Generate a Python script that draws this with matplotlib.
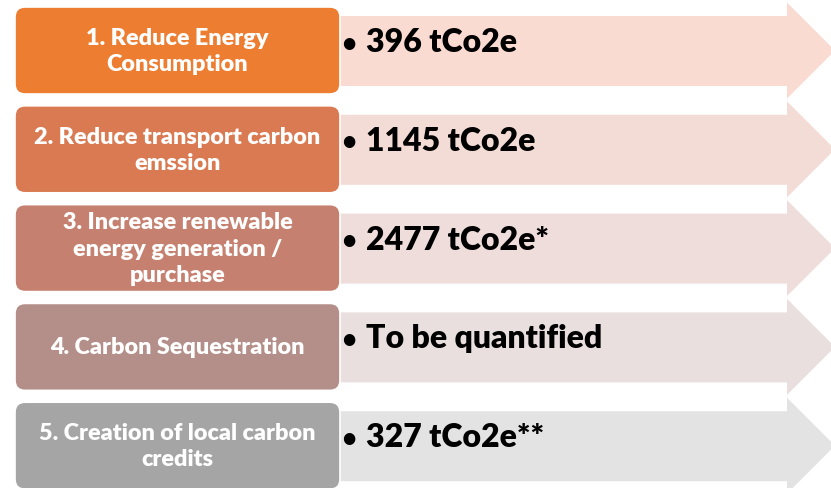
import numpy as np
import matplotlib.pyplot as plt
from matplotlib.patches import FancyBboxPatch, Polygon

plt.rcParams['font.family'] = ['Lato', 'DejaVu Sans']

# content
steps = ["1. Reduce Energy\nConsumption",
         "2. Reduce transport carbon\nemssion",
         "3. Increase renewable\nenergy generation /\npurchase",
         "4. Carbon Sequestration",
         "5. Creation of local carbon\ncredits"]
results = ["396 tCo2e", "1145 tCo2e", "2477 tCo2e*", "To be quantified", "327 tCo2e**"]

box_colors = ["#ED7D31", "#D97A52", "#C5806F", "#B48F89", "#A5A5A5"]
arrow_colors = ["#F9DBD2", "#F3DCD5", "#EEDDDB", "#E9DFDF", "#E3E3E3"]

W, H = 831, 489
fig = plt.figure(figsize=(W / 100, H / 100), dpi=100)
ax = fig.add_axes([0, 0, 1, 1])
ax.set_xlim(0, W)
ax.set_ylim(H, 0)
ax.axis('off')

top0, pitch, bh = 8, 98.8, 87
bx0, bx1 = 15, 340
body_end, tip_x = 787, 835
for i, (lab, res) in enumerate(zip(steps, results)):
    top = top0 + i * pitch
    cy = top + bh / 2
    # arrow behind the box
    b_top, b_bot = top + 9, top + bh - 8
    h_half = 48
    pts = [(bx1 - 10, b_top), (body_end, b_top), (body_end, cy - h_half),
           (tip_x, cy), (body_end, cy + h_half), (body_end, b_bot), (bx1 - 10, b_bot)]
    ax.add_patch(Polygon(pts, closed=True, fc=arrow_colors[i], ec='none', zorder=1))
    # rounded label box
    r = 10
    ax.add_patch(FancyBboxPatch((bx0 + r, top + r), bx1 - bx0 - 2 * r, bh - 2 * r,
                                boxstyle="round,pad=%d" % r, fc=box_colors[i],
                                ec='white', lw=1.2, zorder=2))
    ax.text((bx0 + bx1) / 2, cy, lab, color='white', fontsize=16.8, fontweight='heavy',
            ha='center', va='center', linespacing=1.32, zorder=3)
    ax.text(341, cy - 8, "\u2022", color='black', fontsize=19, fontweight='bold',
            ha='left', va='center', zorder=3)
    ax.text(366, cy - 9, res, color='black', fontsize=23, fontweight='heavy',
            ha='left', va='center', zorder=3)

fig.savefig("out.png", dpi=100)
